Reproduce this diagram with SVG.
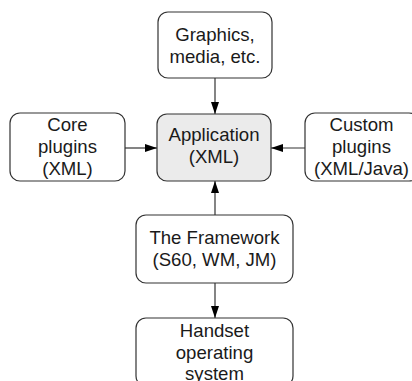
<svg xmlns="http://www.w3.org/2000/svg" width="412" height="381" viewBox="0 0 412 381">
<defs>
<style>
.box{fill:#fff;stroke:#333;stroke-width:1.2}
.app{fill:#ebebeb;stroke:#333;stroke-width:1.2}
.t{font-family:"Liberation Sans",Arial,sans-serif;font-size:18.6px;fill:#1a1a1a;text-anchor:middle}
.c{stroke:#333;stroke-width:1.2;fill:none;marker-end:url(#ah)}
</style>
<marker id="ah" viewBox="0 0 12 8" refX="12" refY="4" markerWidth="12" markerHeight="8" markerUnits="userSpaceOnUse" orient="auto">
<path d="M0,0 L12,4 L0,8 Z" fill="#000"/>
</marker>
</defs>
<g id="connectors">
<line class="c" x1="215" y1="78" x2="215" y2="114"/>
<line class="c" x1="125" y1="148" x2="157" y2="148"/>
<line class="c" x1="305" y1="148" x2="271" y2="148"/>
<line class="c" x1="215" y1="215" x2="215" y2="181"/>
<line class="c" x1="215" y1="283" x2="215" y2="318"/>
</g>
<g id="graphics">
<rect class="box" x="158" y="12" width="114" height="66" rx="10"/>
<text class="t" x="215" y="41">Graphics,</text>
<text class="t" x="215" y="63">media, etc.</text>
</g>
<g id="core">
<rect class="box" x="10" y="113" width="115" height="68" rx="10"/>
<text class="t" x="67.5" y="131">Core</text>
<text class="t" x="67.5" y="153">plugins</text>
<text class="t" x="67.5" y="175">(XML)</text>
</g>
<g id="application">
<rect class="app" x="157" y="114" width="114" height="67" rx="10"/>
<text class="t" x="214" y="141">Application</text>
<text class="t" x="214" y="163">(XML)</text>
</g>
<g id="custom">
<rect class="box" x="305" y="113" width="114" height="68" rx="10"/>
<text class="t" x="361.5" y="131">Custom</text>
<text class="t" x="361.5" y="153">plugins</text>
<text class="t" x="361.5" y="175">(XML/Java)</text>
</g>
<g id="framework">
<rect class="box" x="136" y="215" width="157" height="68" rx="10"/>
<text class="t" x="214.5" y="244">The Framework</text>
<text class="t" x="214.5" y="266">(S60, WM, JM)</text>
</g>
<g id="handset">
<rect class="box" x="136" y="318" width="157" height="68" rx="10"/>
<text class="t" x="214.5" y="337">Handset</text>
<text class="t" x="214.5" y="359">operating</text>
<text class="t" x="214.5" y="380">system</text>
</g>
</svg>
